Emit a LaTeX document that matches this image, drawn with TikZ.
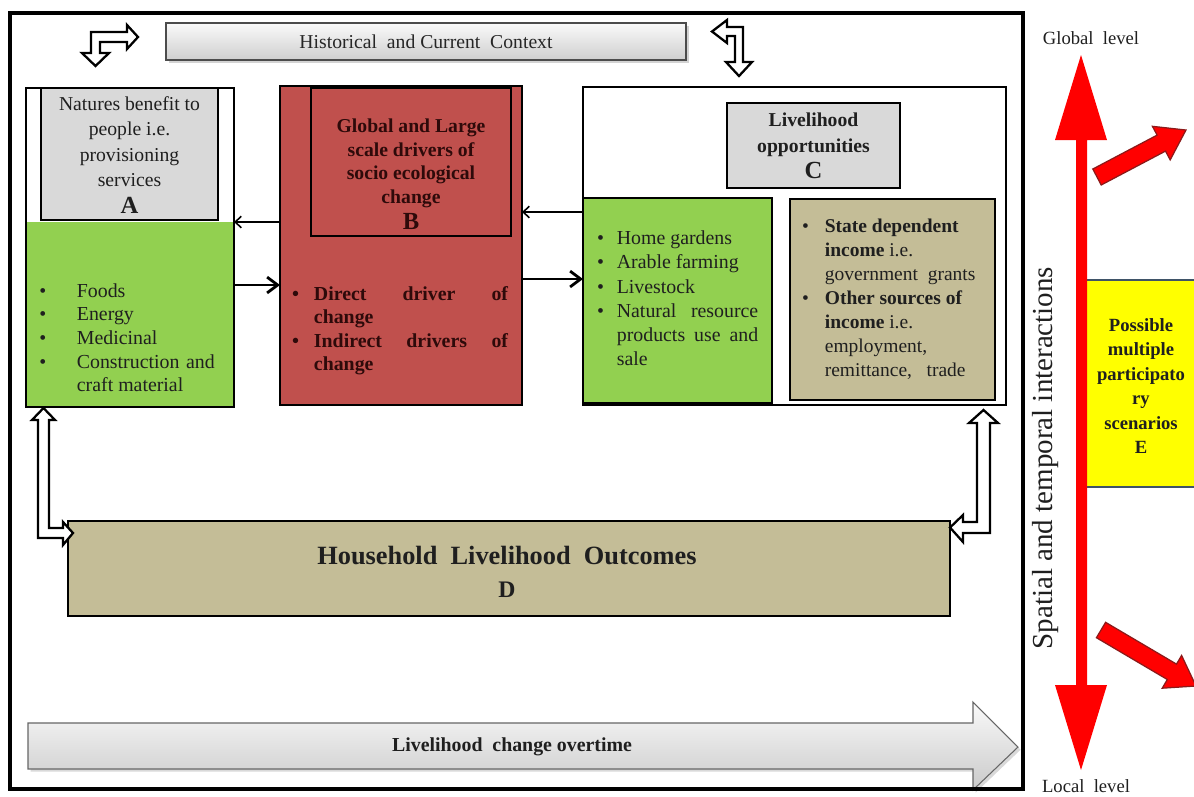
\documentclass[tikz,border=0pt]{standalone}
\usepackage{fontspec}
\setmainfont{Liberation Serif}
\usetikzlibrary{fit,shadows,arrows.meta}

\definecolor{leaf}{HTML}{92D050}
\definecolor{brick}{HTML}{C0504D}
\definecolor{panel}{HTML}{D9D9D9}
\definecolor{khaki}{HTML}{C4BD97}
\definecolor{lemon}{HTML}{FFFF00}
\definecolor{slate}{HTML}{3F5468}
\definecolor{signal}{HTML}{FF0000}
\definecolor{darkred}{HTML}{8B1A1A}
\definecolor{ink}{HTML}{1F1F1F}
\definecolor{maroonink}{HTML}{2E0A0A}

\tikzset{
  area/.style={fit={#1}, inner sep=0pt, outer sep=0pt, line width=1.6pt},
  hollow/.style={draw=black, fill=white, line width=1.3pt, line join=miter},
  thinlink/.style={draw=black, line width=0.9pt, -{Straight Barb[length=3.5pt,width=6.5pt]}},
  thicklink/.style={draw=black, line width=1.6pt, -{Straight Barb[length=6pt,width=9pt]}},
  body/.style={font=\fontsize{11.3}{13.5}\selectfont, text=ink},
  listnode/.style={anchor=north west, inner sep=0pt, outer sep=0pt},
}

\begin{document}
\begin{tikzpicture}[x=0.02cm, y=-0.02cm, line join=miter]
\useasboundingbox (0,0) rectangle (1194,796);

% ---- context banner ----
\node[area={(166,23) (686,60)}, draw=black!70, line width=0.8pt,
      top color=gray!4, bottom color=gray!38,
      drop shadow={shadow xshift=1.5pt, shadow yshift=-1.5pt, opacity=0.35}] (context) {};
\node[font=\fontsize{11.2}{13}\selectfont, text=black!85] (contextlabel) at (context.center)
  {Historical\ \ and Current\ \ Context};

% bent two-way arrows beside the banner
\begin{scope}[shift={(context.west)}]
  \draw[hollow] (-75,-9.5) -- (-39,-9.5) -- (-39,-16.5) -- (-28,-4.5) -- (-39,7.5) -- (-39,0.5)
    -- (-66,0.5) -- (-66,11.5) -- (-57,11.5) -- (-70.5,24.5) -- (-84,11.5) -- (-75,11.5) -- cycle;
\end{scope}
\begin{scope}[shift={(context.east)}]
  \draw[hollow] (41,-14.5) -- (57,-14.5) -- (57,20.5) -- (66,20.5) -- (53,34.5) -- (40,20.5)
    -- (49,20.5) -- (49,-5.5) -- (41,-5.5) -- (41,1.5) -- (26,-10) -- (41,-21.5) -- cycle;
\end{scope}

% ---- block A ----
\node[area={(26,88) (234,407)}, draw, fill=white] (A) {};
\node[area={(27.4,222) (232.6,405.6)}, fill=leaf] (Agreen) {};
\node[area={(41,88) (218,220)}, draw, fill=panel] (Atitle) {};
\node[font=\fontsize{11.2}{14.3}\selectfont, text=ink, align=center] (Atext) at (129.5,155)
  {Natures\ benefit\ to\\people i.e.\\provisioning\\services\\[1pt]{\fontsize{14}{15}\selectfont\bfseries A}};
\node[listnode, body] (Alist) at (39.5,280.5) {%
  \begin{tabular}{@{}p{21.3pt}@{}l@{}}
  \textbullet & Foods\\
  \textbullet & Energy\\
  \textbullet & Medicinal\\
  \textbullet & \makebox[78.5pt][s]{Construction and}\\
   & craft material
  \end{tabular}};

% ---- block B ----
\node[area={(280,86) (522,405)}, draw, fill=brick] (B) {};
\node[area={(311,88) (511,236)}, draw, fill=brick] (Btitle) {};
\node[font=\fontsize{11.2}{13.6}\selectfont\bfseries, text=maroonink, align=center] (Btext) at (411,174)
  {Global and Large\\scale drivers\ of\\socio ecological\\change\\[1pt]{\fontsize{14}{15}\selectfont B}};
\node[listnode, font=\fontsize{11.3}{13.2}\selectfont\bfseries, text=maroonink] (Blist) at (292,284.5) {%
  \begin{tabular}{@{}p{12.5pt}@{}l@{}}
  \textbullet & \makebox[110.5pt][s]{Direct driver of}\\
   & change\\
  \textbullet & \makebox[110.5pt][s]{Indirect drivers of}\\
   & change
  \end{tabular}};

% ---- block C ----
\node[area={(583,87) (1006,405)}, draw, fill=white] (C) {};
\node[area={(727,103) (900,188)}, draw, fill=panel] (Ctitle) {};
\node[font=\fontsize{11.2}{14.7}\selectfont\bfseries, text=ink, align=center] (Ctext) at (813.5,146)
  {Livelihood\\opportunities\\{\fontsize{14}{15}\selectfont C}};
\node[area={(583,198) (772,403)}, draw, fill=leaf] (Cgreen) {};
\node[area={(790,199) (995,400)}, draw, fill=khaki] (Ctan) {};
\node[listnode, font=\fontsize{11.3}{13.7}\selectfont, text=ink] (Cfarm) at (597,228) {%
  \begin{tabular}{@{}p{11.3pt}@{}l@{}}
  \textbullet & Home\ gardens\\
  \textbullet & Arable farming\\
  \textbullet & Livestock\\
  \textbullet & \makebox[80.5pt][s]{Natural resource}\\
   & \makebox[80.5pt][s]{products use and}\\
   & sale
  \end{tabular}};
\node[listnode, font=\fontsize{11.1}{13.6}\selectfont, text=ink] (Cincome) at (802,216) {%
  \begin{tabular}{@{}p{13pt}@{}l@{}}
  \textbullet & \textbf{State dependent}\\
   & \textbf{income} i.e.\\
   & government\ \ grants\\
  \textbullet & \textbf{Other sources of}\\
   & \textbf{income} i.e.\\
   & employment,\\
   & remittance,\ \ \ trade
  \end{tabular}};

% ---- links between blocks ----
\coordinate (yba) at (0,222);
\coordinate (yab) at (0,285);
\coordinate (ybc) at (0,279);
\coordinate (ycb) at (0,212);
\draw[thinlink] (B.west |- yba) -- (A.east |- yba);
\draw[thicklink] (A.east |- yab) -- (B.west |- yab);
\draw[thicklink] (B.east |- ybc) -- (C.west |- ybc);
\draw[thinlink] (C.west |- ycb) -- (B.east |- ycb);

% ---- block D ----
\node[area={(68,521) (950,616)}, draw, fill=khaki] (D) {};
\node[font=\fontsize{15}{19}\selectfont\bfseries, text=ink, align=center] (Dtext) at (507,572)
  {Household\ \ Livelihood\ \ Outcomes\\{\fontsize{13.5}{15}\selectfont D}};

% two-way links from A and C down to D
\begin{scope}[shift={(A.south west)}]
  \draw[hollow] (17.5,1) -- (29,13) -- (23,13) -- (23,121) -- (37,121) -- (37,115) -- (47,126)
    -- (37,138) -- (37,131) -- (12,131) -- (12,13) -- (6,13) -- cycle;
\end{scope}
\begin{scope}[shift={(C.south east)}]
  \draw[hollow] (-22.5,5) -- (-8,18) -- (-16,18) -- (-16,128) -- (-43,128) -- (-43,137) -- (-56,122.5)
    -- (-43,110) -- (-43,117) -- (-29,117) -- (-29,18) -- (-37,18) -- cycle;
\end{scope}

% ---- time arrow along the bottom ----
\path[draw=black!60, line width=0.6pt, top color=gray!4, bottom color=gray!42,
      drop shadow={shadow xshift=1.5pt, shadow yshift=-1.5pt, opacity=0.3}]
  (28,723) -- (973,723) -- (973,702) -- (1018,747) -- (973,790) -- (973,769) -- (28,769) -- cycle;
\node[font=\fontsize{11.3}{13}\selectfont\bfseries, text=ink] (timelabel) at (512,747)
  {Livelihood\ \ change overtime};

% ---- outer frame ----
\node[area={(10,13) (1023,789)}, draw, line width=2.5pt] (frame) {};

% ---- scale axis on the right ----
\node[area={(1082,280) (1215,487)}, draw=slate, line width=1.4pt, fill=lemon] (E) {};
\node[font=\fontsize{10.6}{13.9}\selectfont\bfseries, text=ink, align=center] (Etext) at (1141,386)
  {Possible\\multiple\\participato\\ry\\scenarios\\E};

\fill[signal] (1081,55) -- (1107,140) -- (1087,140) -- (1087,685) -- (1107,685) -- (1081,770)
  -- (1055,685) -- (1076,685) -- (1076,140) -- (1055,140) -- cycle;

\filldraw[fill=signal, draw=darkred, line width=0.7pt]
  (1092.8,169.0) -- (1157.1,135.1) -- (1152.4,126.3) -- (1186,130) -- (1170.2,159.9)
  -- (1165.5,151.1) -- (1101.2,185.0) -- cycle;
\filldraw[fill=signal, draw=darkred, line width=0.7pt]
  (1105.6,622.3) -- (1176.5,664.1) -- (1181.6,655.4) -- (1196,686) -- (1162.2,688.2)
  -- (1167.3,679.5) -- (1096.4,637.7) -- cycle;

\node[font=\fontsize{10.6}{12}\selectfont, text=ink] (globallabel) at (1091,38) {Global\ \ level};
\node[font=\fontsize{10.6}{12}\selectfont, text=ink, anchor=north, inner sep=0pt] (locallabel) at (1086,779) {Local\ \ level};
\node[rotate=90, font=\fontsize{16.5}{18}\selectfont, text=ink] (spatial) at (1046,458)
  {Spatial and temporal interactions};
\end{tikzpicture}
\end{document}
